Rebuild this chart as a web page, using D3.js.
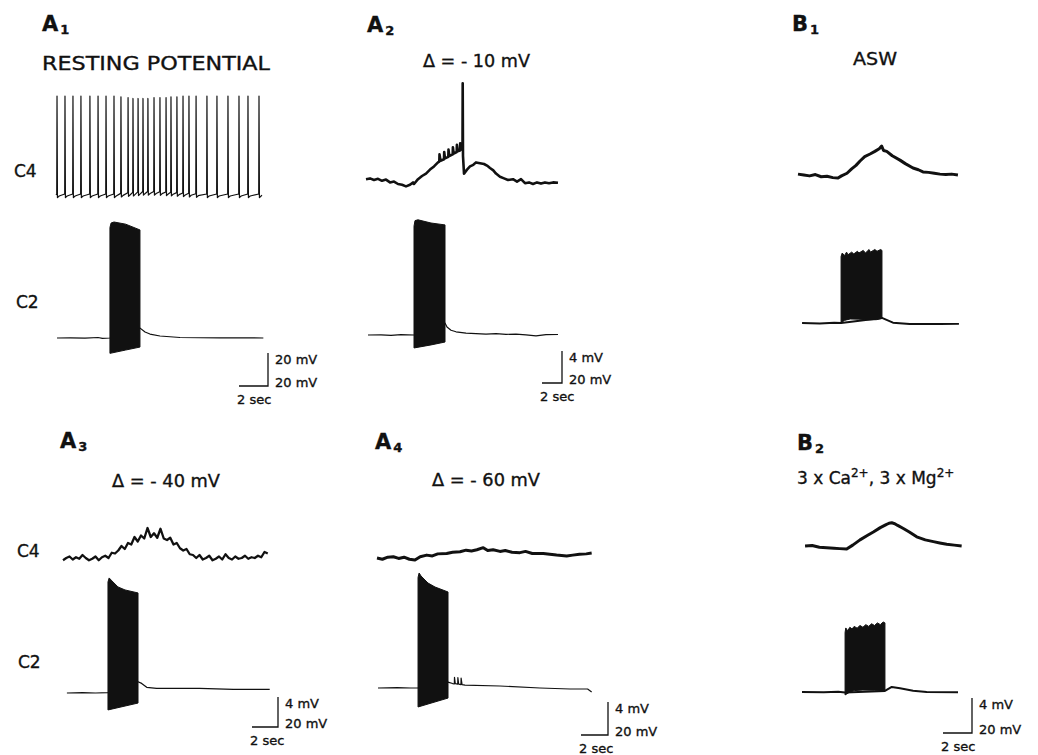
<!DOCTYPE html>
<html>
<head>
<meta charset="utf-8">
<script src="https://cdn.jsdelivr.net/npm/d3@7"></script>
<style>
body { margin: 0; background: #fff; }
svg text { font-family: "DejaVu Sans", sans-serif; fill: #111; stroke: #111; stroke-width: 0.35; }
</style>
</head>
<body>
<svg id="fig" width="1038" height="755"></svg>
<script>
// all times in seconds from trace start, all voltages in mV from the resting level

// A1, resting potential: C4 fires a regular train
var a1C4Spikes = [0.07, 0.62, 1.17, 1.72, 2.34, 2.9, 3.45, 4.0, 4.48, 4.97, 5.31, 5.66, 6.0, 6.34,
    6.76, 7.17, 7.59, 7.93, 8.34, 8.76, 9.17, 9.66, 10.41, 11.1, 11.86, 12.62, 13.24, 14.0];
var a1C4Peaks = [60, 60, 60, 60, 60, 60, 60, 60, 59.5, 59, 58.5, 58.5, 58.5, 58.5,
    59, 59, 59, 59.5, 59.5, 60, 60, 60, 60, 60, 60, 60, 60, 60];
var a1C4Drift = [[0, 0], [4, 0], [5, 0.8], [6, 1.5], [7, 1.5], [8, 1], [9, 0.5], [10, 0], [14.2, 0]];
var a1C2Trace = [[0.07, 0], [1.0, 0.1], [2.0, -0.1], [2.9, 0.3], [3.2, -0.2], [3.72, 0], [5.8, 6.0],
    [6.14, 3.6], [6.48, 2.4], [7.17, 1.2], [8.55, 0.3], [11.3, 0.1], [14.3, 0]];
var a1C2Top = [[3.72, 67], [3.8, 69.7], [4.0, 70.3], [4.8, 69], [5.79, 65.5]];
var a1C2Bottom = [[3.72, -9.3], [4.8, -7.3], [5.79, -5.5]];

// A2, delta = -10 mV
var a2C4Trace = [[0, 0.1], [0.4, 0.2], [0.8, 0], [1.2, 0.15], [1.6, -0.1], [2.0, 0.05], [2.4, -0.3], [2.8, -0.2],
    [3.2, -0.5], [3.6, -0.6], [4.0, -0.8], [4.4, -0.6], [4.7, -0.3], [4.8, -0.5], [5.2, 0.1], [5.6, 0.5],
    [6.0, 0.8], [6.4, 1.3], [6.8, 1.7], [7.2, 2.2], [7.33, 2.3], [7.35, 3.2], [7.45, 2.4], [7.8, 2.6],
    [7.82, 3.5], [7.9, 2.7], [8.23, 2.9], [8.25, 3.8], [8.33, 3.0], [8.67, 3.2], [8.69, 4.1], [8.77, 3.3],
    [9.07, 3.5], [9.09, 4.4], [9.17, 3.6], [9.4, 3.7], [9.42, 4.6], [9.5, 3.8], [9.65, 4.0], [9.67, 12.1],
    [9.7, 3.0], [9.8, 0.8], [10.1, 1.3], [10.4, 1.7], [10.73, 1.9], [11.0, 2.2], [11.4, 2.1], [11.8, 2.0],
    [12.1, 1.8], [12.4, 1.5], [12.73, 1.2], [13.0, 0.8], [13.4, 0.4], [13.8, 0.2], [14.2, 0.0], [14.7, 0.1],
    [15.1, -0.2], [15.5, 0.1], [15.9, -0.4], [16.3, -0.3], [16.7, -0.5], [17.1, -0.3], [17.5, -0.45],
    [17.9, -0.3], [18.3, -0.4], [18.7, -0.3], [19.2, -0.35]];
var a2C2Trace = [[0.2, 0], [1.5, 0.1], [2.5, -0.2], [3.5, 0.2], [4.8, 0], [7.9, 7.5], [8.1, 5], [8.5, 3],
    [9, 2], [10, 1.2], [11, 0.9], [12, 0.6], [13, 0.8], [14, 0.4], [15, 0.6], [16, 0.1], [17, -0.6],
    [18, 0.2], [19.2, 0.3]];
var a2C2Top = [[4.8, 68], [4.9, 71.5], [5.2, 72], [6.5, 70], [7.9, 68.8]];
var a2C2Bottom = [[4.8, -8.1], [6.5, -6.2], [7.9, -4.4]];

// B1, ASW
var b1C4Trace = [[0, 0.1], [0.4, 0.0], [0.8, -0.1], [1.2, 0.05], [1.6, -0.2], [2.0, -0.15], [2.4, -0.3],
    [2.76, -0.35], [3.0, -0.1], [3.38, 0.2], [3.7, 0.7], [4.0, 1.1], [4.28, 1.6], [4.6, 2.1], [4.97, 2.4],
    [5.3, 2.7], [5.6, 3.0], [5.77, 3.3], [5.9, 2.8], [6.12, 2.7], [6.5, 2.2], [7.03, 1.7], [7.4, 1.3],
    [7.93, 0.8], [8.3, 0.6], [8.62, 0.35], [9.0, 0.3], [9.4, 0.2], [9.79, 0.1], [10.2, 0.05], [10.6, 0.1],
    [11.03, 0.0]];
var b1C2Trace = [[0.28, 0], [1.5, -0.3], [2.5, 0.2], [2.97, 0], [5.79, 2.9], [6.55, 0.2], [7.7, -0.6],
    [9.8, -0.6], [11.1, -0.5]];
var b1C2Top = [[2.97, 38], [3.05, 40], [3.2, 38.5], [3.35, 40.5], [3.45, 39], [3.7, 40.5], [3.85, 39.5],
    [4.1, 41], [4.2, 40], [4.5, 41.5], [4.65, 40], [4.9, 42], [5.0, 40.5], [5.3, 42], [5.45, 41],
    [5.7, 42], [5.79, 41.5]];
var b1C2Bottom = [[2.97, 0], [3.2, 1.5], [3.6, 2.3], [4.2, 2.2], [4.8, 1.8], [5.4, 1.9], [5.79, 2.6]];

// A3, delta = -40 mV (C4 sampled every 0.25 s)
var a3C4Step = 0.25;
var a3C4Values = [-0.3, 0.0, 0.2, -0.2, 0.1, -0.1, 0.4, 0.0, -0.3, -0.1, 0.2, -0.3, 0.1, 0.3, 0.0, 0.7,
    0.6, 1.0, 1.6, 1.2, 2.0, 1.8, 2.8, 2.2, 3.0, 2.6, 4.0, 2.8, 3.3, 2.7, 3.9, 2.6, 2.4, 2.7, 1.8, 2.0,
    1.3, 1.0, 1.2, 0.5, 0.4, 0.0, 0.4, -0.2, 0.0, 0.3, -0.3, -0.1, 0.2, -0.2, 0.5, 0.0, -0.2, 0.2,
    -0.1, 0.0, 0.3, -0.1, 0.1, 0.0, 0.3, 0.1, 0.8, 0.6];
var a3C2Trace = [[0.3, 0], [1.5, 0.3], [2.5, 0], [3.46, 0.3], [5.77, 7.5], [6.05, 6.4], [6.44, 3.8],
    [7.2, 3.1], [10.5, 3.1], [13.1, 2.4], [15.9, 2.4]];
var a3C2Top = [[3.46, 74], [3.55, 76.7], [3.77, 74.7], [4.23, 70.7], [4.77, 68.7], [5.77, 66.7]];
var a3C2Bottom = [[3.46, -11.3], [5.77, -6.7]];

// A4, delta = -60 mV
var a4C4Trace = [[0, 0], [0.4, -0.15], [0.8, 0.1], [1.21, 0.15], [1.6, -0.05], [2.0, 0.1], [2.4, -0.15],
    [2.81, -0.25], [3.2, 0.15], [3.68, 0.35], [4.1, 0.25], [4.5, 0.5], [5.16, 0.55], [5.6, 0.7],
    [6.15, 0.75], [6.6, 0.95], [7.0, 0.85], [7.4, 1.0], [7.87, 1.25], [8.2, 0.9], [8.6, 1.0], [9.11, 0.8],
    [9.5, 0.9], [10.0, 0.7], [10.59, 0.65], [11.0, 0.8], [11.5, 0.55], [12.32, 0.55], [12.8, 0.45],
    [13.3, 0.35], [14.05, 0.25], [14.5, 0.35], [15.0, 0.45], [15.5, 0.5], [15.9, 0.6]];
var a4C2Trace = [[0.07, 0], [1.5, 0.2], [2.5, 0], [3.04, 0.1], [5.26, 3.6], [5.6, 2.7], [5.73, 2.5],
    [5.74, 6.5], [5.8, 2.6], [5.98, 2.3], [5.99, 6.3], [6.05, 2.3], [6.22, 2.1], [6.23, 6.0], [6.3, 2.0],
    [6.52, 1.8], [9.1, 1.2], [12.07, 0], [14.3, -0.6], [15.6, -0.6], [15.9, -2.4]];
var a4C2Top = [[3.04, 67], [3.12, 69.7], [3.26, 67.9], [3.78, 63.6], [4.3, 61.2], [5.26, 58.2]];
var a4C2Bottom = [[3.04, -11.5], [5.26, -6.1]];

// B2, 3 x Ca, 3 x Mg
var b2C4Trace = [[0.21, 0], [0.7, 0.05], [1.2, -0.15], [1.7, -0.2], [2.2, -0.25], [2.6, -0.3], [3.08, -0.35],
    [3.5, 0.1], [4.0, 0.7], [4.5, 1.2], [4.92, 1.6], [5.4, 2.1], [5.8, 2.45], [6.0, 2.6], [6.19, 2.65],
    [6.4, 2.55], [6.6, 2.35], [6.99, 2.0], [7.4, 1.6], [7.91, 1.05], [8.5, 0.7], [9.06, 0.5], [9.5, 0.35],
    [9.98, 0.2], [10.5, 0.1], [11.01, 0]];
var b2C2Trace = [[0, 0], [1.5, -0.2], [2.5, 0.1], [2.97, -0.3], [5.72, 0.6], [6.19, 2.9], [6.76, 2.1],
    [7.66, 0.7], [8.6, 0], [10.76, -0.2]];
var b2C2Top = [[2.97, 34], [3.02, 36.6], [3.15, 35], [3.3, 37], [3.45, 36], [3.6, 37.5], [3.8, 36.5],
    [4.0, 38], [4.2, 37], [4.4, 38.5], [4.6, 37.5], [4.8, 39], [5.0, 38], [5.2, 39.5], [5.4, 38.5],
    [5.6, 40], [5.72, 39.5]];
var b2C2Bottom = [[2.97, -1.7], [3.2, -0.5], [3.6, 0.8], [4.2, 1.1], [5.0, 1.0], [5.72, 0.8]];

// scale bars: C4 label, C2 label, time
var barC4Labels = { A1: "20 mV", A2: "4 mV", A3: "4 mV", A4: "4 mV", B2: "4 mV" };
var barC2Label = "20 mV";
var barTimeLabel = "2 sec";
var barMv = 20, barSec = 2;

var svg = d3.select("#fig");

// where each panel sits on the page
var panels = [
    { key: "A1", sub: "1", x0: 56, pxs: 14.5, c4Y: 195, c4Pmv: 1.65, c2Y: 338, c2Pmv: 1.65,
      c4W: 1.2, c2W: 1.2, bar: [268, 386], lab: [42, 31] },
    { key: "A2", sub: "2", x0: 366, pxs: 10, c4Y: 180, c4Pmv: 8, c2Y: 335, c2Pmv: 1.6,
      c4W: 2.6, c2W: 1.2, bar: [562, 383], lab: [367, 32] },
    { key: "B1", sub: "1", x0: 798, pxs: 14.5, c4Y: 175, c4Pmv: 8.75, c2Y: 323, c2Pmv: 1.75,
      c4W: 3, c2W: 2, bar: null, lab: [792, 31] },
    { key: "A3", sub: "3", x0: 63, pxs: 13, c4Y: 558, c4Pmv: 7.5, c2Y: 693, c2Pmv: 1.5,
      c4W: 2.3, c2W: 1.2, bar: [278, 727], lab: [60, 448] },
    { key: "A4", sub: "4", x0: 377, pxs: 13.5, c4Y: 558, c4Pmv: 8.25, c2Y: 688, c2Pmv: 1.65,
      c4W: 3, c2W: 1.2, bar: [608, 735], lab: [375, 449] },
    { key: "B2", sub: "2", x0: 802, pxs: 14.5, c4Y: 546, c4Pmv: 8.75, c2Y: 692, c2Pmv: 1.75,
      c4W: 3, c2W: 2, bar: [972, 733], lab: [797, 450] }
];

function a1C4Points() {
    let drift = d3.scaleLinear()
        .domain(a1C4Drift.map(function(d) { return d[0]; }))
        .range(a1C4Drift.map(function(d) { return d[1]; }));
    let pts = [[0, drift(0)]];
    a1C4Spikes.forEach(function(ts, i) {
        let b = drift(ts);
        pts.push([ts - 0.02, b + 0.6], [ts, a1C4Peaks[i]], [ts + 0.03, b - 1.6], [ts + 0.15, b - 0.6]);
    });
    pts.push([14.2, drift(14.2)]);
    return pts;
}

var c4Data = {
    A1: a1C4Points(),
    A2: a2C4Trace,
    B1: b1C4Trace,
    A3: a3C4Values.map(function(v, i) { return [i * a3C4Step, v]; }),
    A4: a4C4Trace,
    B2: b2C4Trace
};
var c2Data = {
    A1: { line: a1C2Trace, top: a1C2Top, bottom: a1C2Bottom },
    A2: { line: a2C2Trace, top: a2C2Top, bottom: a2C2Bottom },
    B1: { line: b1C2Trace, top: b1C2Top, bottom: b1C2Bottom },
    A3: { line: a3C2Trace, top: a3C2Top, bottom: a3C2Bottom },
    A4: { line: a4C2Trace, top: a4C2Top, bottom: a4C2Bottom },
    B2: { line: b2C2Trace, top: b2C2Top, bottom: b2C2Bottom }
};

function drawPanel(p) {
    let g = svg.append("g").attr("class", "panel-" + p.key);
    let x = d3.scaleLinear().domain([0, 1]).range([p.x0, p.x0 + p.pxs]);
    let y4 = d3.scaleLinear().domain([0, 1]).range([p.c4Y, p.c4Y - p.c4Pmv]);
    let y2 = d3.scaleLinear().domain([0, 1]).range([p.c2Y, p.c2Y - p.c2Pmv]);
    let line4 = d3.line().x(function(d) { return x(d[0]); }).y(function(d) { return y4(d[1]); });
    let line2 = d3.line().x(function(d) { return x(d[0]); }).y(function(d) { return y2(d[1]); });

    g.append("path")
        .attr("d", line4(c4Data[p.key]))
        .attr("fill", "none")
        .attr("stroke", "#111")
        .attr("stroke-width", p.c4W)
        .attr("stroke-linejoin", "round");

    let c2 = c2Data[p.key];
    g.append("path")
        .attr("d", line2(c2.line))
        .attr("fill", "none")
        .attr("stroke", "#111")
        .attr("stroke-width", p.c2W)
        .attr("stroke-linejoin", "round");
    // the burst is drawn as its filled envelope
    g.append("path")
        .attr("d", line2(c2.top.concat(c2.bottom.slice().reverse())) + "Z")
        .attr("fill", "#111")
        .attr("stroke", "#111")
        .attr("stroke-width", 1)
        .attr("stroke-linejoin", "round");

    // panel label with subscript
    let lab = g.append("text")
        .attr("x", p.lab[0])
        .attr("y", p.lab[1])
        .attr("font-size", 21)
        .attr("font-weight", "bold");
    lab.append("tspan").text(p.key.charAt(0));
    lab.append("tspan").attr("dx", 2).attr("dy", 3).attr("font-size", 13).text(p.sub);

    if (p.bar) {
        let bx = p.bar[0], by = p.bar[1];
        let h = y2(0) - y2(barMv);
        let w = x(barSec) - x(0);
        g.append("path")
            .attr("d", "M" + (bx - w) + "," + by + "H" + bx + "V" + (by - h))
            .attr("fill", "none")
            .attr("stroke", "#111")
            .attr("stroke-width", 1.3);
        g.append("text").attr("x", bx + 7).attr("y", by - h + 11)
            .attr("font-size", 13).text(barC4Labels[p.key]);
        g.append("text").attr("x", bx + 7).attr("y", by + 1)
            .attr("font-size", 13).text(barC2Label);
        g.append("text").attr("x", bx - w - 2).attr("y", by + 18)
            .attr("font-size", 13).text(barTimeLabel);
    }
}

panels.forEach(drawPanel);

// trace names
var traceNames = [["C4", 14, 177], ["C2", 16, 308], ["C4", 17, 557], ["C2", 18, 668]];
svg.selectAll("text.trace-name")
    .data(traceNames)
    .enter().append("text")
    .attr("class", "trace-name")
    .attr("x", function(d) { return d[1]; })
    .attr("y", function(d) { return d[2]; })
    .attr("font-size", 17)
    .text(function(d) { return d[0]; });

// condition titles
function title(txt, x, y, len) {
    let t = svg.append("text").attr("x", x).attr("y", y).attr("font-size", 17).text(txt);
    if (len) t.attr("textLength", len).attr("lengthAdjust", "spacingAndGlyphs");
    return t;
}
title("RESTING POTENTIAL", 42, 70, 228).attr("font-size", 19);
title("Δ = - 10 mV", 423, 67, 107);
title("ASW", 853, 65, 44);
title("Δ = - 40 mV", 112, 487, 108);
title("Δ = - 60 mV", 432, 486, 108);

var ion = svg.append("text").attr("x", 797).attr("y", 484).attr("font-size", 17);
ion.append("tspan").text("3 x Ca");
ion.append("tspan").attr("dy", -7).attr("font-size", 12).text("2+");
ion.append("tspan").attr("dy", 7).text(", 3 x Mg");
ion.append("tspan").attr("dy", -7).attr("font-size", 12).text("2+");
</script>
</body>
</html>
